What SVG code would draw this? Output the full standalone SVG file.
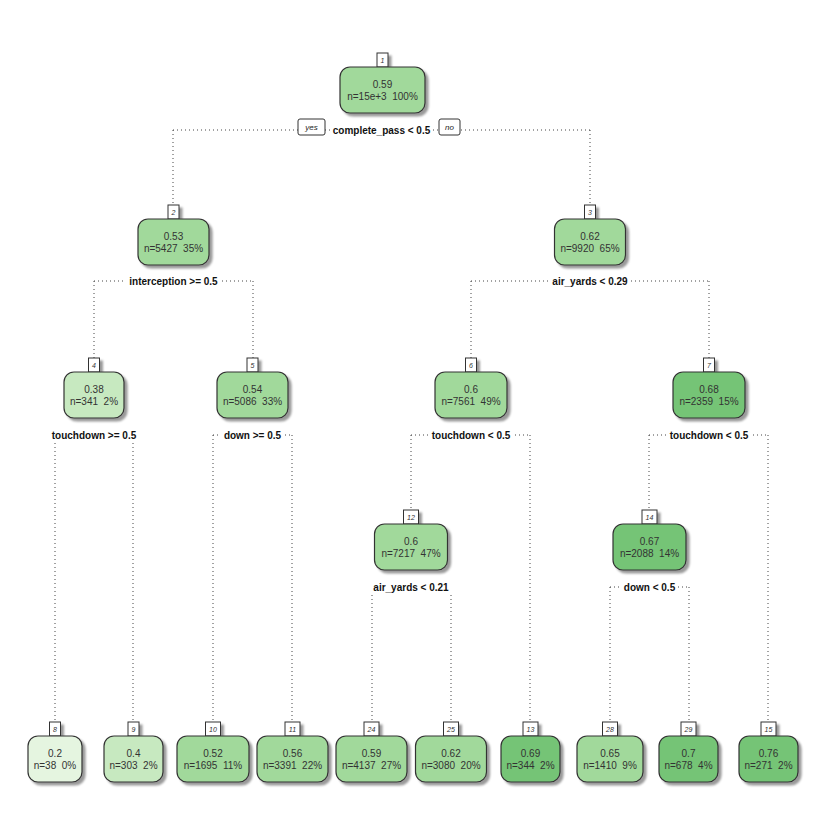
<svg xmlns="http://www.w3.org/2000/svg" width="832" height="820" viewBox="0 0 832 820">
  <defs>
    <filter id="shadow" x="-20%" y="-20%" width="140%" height="150%">
      <feDropShadow dx="3" dy="3" stdDeviation="1.3" flood-color="#000" flood-opacity="0.4"/>
    </filter>
    <style>
      .edge { fill: none; stroke: #444; stroke-width: 1; stroke-dasharray: 1 3; }
      .box { stroke: #333; stroke-width: 1.2; }
      .nbox { fill: #fff; stroke: #333; stroke-width: 1; }
      .t { font-family: "Liberation Sans", Arial, sans-serif; font-size: 10px; fill: #333; text-anchor: middle; white-space: pre; }
      .nn { font-family: "Liberation Sans", Arial, sans-serif; font-size: 7px; font-style: italic; fill: #333; text-anchor: middle; }
      .lbl { font-family: "Liberation Sans", Arial, sans-serif; font-size: 10px; font-weight: bold; fill: #111; text-anchor: middle; }
      .lblbg { fill: #fff; }
      .yn { font-family: "Liberation Sans", Arial, sans-serif; font-size: 8px; font-style: italic; fill: #222; text-anchor: middle; }
      .ynbox { fill: #fff; stroke: #333; stroke-width: 1; }
      .g1 { fill: #e5f5e0; }
      .g2 { fill: #c7e9c0; }
      .g3 { fill: #a1d99b; }
      .g4 { fill: #74c476; }
    </style>
  </defs>
  <rect width="832" height="820" fill="#fff"/>

  <!-- connectors -->
  <g id="edges">
    <!-- root split -->
    <path class="edge" d="M173,130 H590 M173,130 V205 M590,130 V205"/>
    <!-- node 2 split -->
    <path class="edge" d="M94,281 H253 M94,281 V358 M253,281 V358"/>
    <!-- node 3 split -->
    <path class="edge" d="M471,281 H709 M471,281 V358 M709,281 V358"/>
    <!-- node 4 split -->
    <path class="edge" d="M55,435 H133 M55,435 V722 M133,435 V722"/>
    <!-- node 5 split -->
    <path class="edge" d="M213,435 H292 M213,435 V722 M292,435 V722"/>
    <!-- node 6 split -->
    <path class="edge" d="M411,435 H530 M411,435 V510 M530,435 V722"/>
    <!-- node 7 split -->
    <path class="edge" d="M649,435 H768 M649,435 V510 M768,435 V722"/>
    <!-- node 12 split -->
    <path class="edge" d="M372,587 H451 M372,587 V722 M451,587 V722"/>
    <!-- node 14 split -->
    <path class="edge" d="M610,587 H689 M610,587 V722 M689,587 V722"/>
    <!-- yes / no tags on the root split -->
    <rect class="ynbox" x="298" y="119" width="27" height="16" rx="2"/>
    <text class="yn" x="311.5" y="130">yes</text>
    <rect class="ynbox" x="439" y="119" width="21" height="16" rx="2"/>
    <text class="yn" x="449.5" y="130">no</text>
  </g>

  <!-- internal nodes -->
  <g id="node1">
    <g filter="url(#shadow)">
      <rect class="nbox" x="377" y="53" width="11" height="14"/>
      <rect class="box g3" x="340" y="67" width="85" height="46" rx="10"/>
    </g>
    <text class="nn" x="382.5" y="63">1</text>
    <text class="t" x="382.5" y="87.5">0.59</text>
    <text class="t" x="382.5" y="100">n=15e+3  100%</text>
    <rect class="lblbg" x="331" y="123" width="102" height="14"/>
    <text class="lbl" x="381.5" y="133.5">complete_pass &lt; 0.5</text>
  </g>

  <g id="node2">
    <g filter="url(#shadow)">
      <rect class="nbox" x="168" y="205" width="11" height="14"/>
      <rect class="box g3" x="138" y="219" width="71" height="46" rx="10"/>
    </g>
    <text class="nn" x="173.5" y="215">2</text>
    <text class="t" x="173.5" y="239.5">0.53</text>
    <text class="t" x="173.5" y="252">n=5427  35%</text>
    <rect class="lblbg" x="126" y="274" width="95" height="14"/>
    <text class="lbl" x="173.5" y="284.5">interception &gt;= 0.5</text>
  </g>

  <g id="node3">
    <g filter="url(#shadow)">
      <rect class="nbox" x="584.5" y="205" width="11" height="14"/>
      <rect class="box g3" x="554.5" y="219" width="71" height="46" rx="10"/>
    </g>
    <text class="nn" x="590" y="215">3</text>
    <text class="t" x="590" y="239.5">0.62</text>
    <text class="t" x="590" y="252">n=9920  65%</text>
    <rect class="lblbg" x="549" y="274" width="82" height="14"/>
    <text class="lbl" x="590" y="284.5">air_yards &lt; 0.29</text>
  </g>

  <g id="node4">
    <g filter="url(#shadow)">
      <rect class="nbox" x="88.5" y="358" width="11" height="14"/>
      <rect class="box g2" x="64" y="372" width="60" height="46" rx="10"/>
    </g>
    <text class="nn" x="94" y="368">4</text>
    <text class="t" x="94" y="392.5">0.38</text>
    <text class="t" x="94" y="405">n=341  2%</text>
    <rect class="lblbg" x="49" y="427" width="90" height="16"/>
    <text class="lbl" x="94" y="438.5">touchdown &gt;= 0.5</text>
  </g>

  <g id="node5">
    <g filter="url(#shadow)">
      <rect class="nbox" x="247" y="358" width="11" height="14"/>
      <rect class="box g3" x="217" y="372" width="71" height="46" rx="10"/>
    </g>
    <text class="nn" x="252.5" y="368">5</text>
    <text class="t" x="252.5" y="392.5">0.54</text>
    <text class="t" x="252.5" y="405">n=5086  33%</text>
    <rect class="lblbg" x="221" y="428" width="63" height="14"/>
    <text class="lbl" x="252.5" y="438.5">down &gt;= 0.5</text>
  </g>

  <g id="node6">
    <g filter="url(#shadow)">
      <rect class="nbox" x="465.5" y="358" width="11" height="14"/>
      <rect class="box g3" x="435" y="372" width="72" height="46" rx="10"/>
    </g>
    <text class="nn" x="471" y="368">6</text>
    <text class="t" x="471" y="392.5">0.6</text>
    <text class="t" x="471" y="405">n=7561  49%</text>
    <rect class="lblbg" x="428" y="428" width="86" height="14"/>
    <text class="lbl" x="471" y="438.5">touchdown &lt; 0.5</text>
  </g>

  <g id="node7">
    <g filter="url(#shadow)">
      <rect class="nbox" x="703.5" y="358" width="11" height="14"/>
      <rect class="box g4" x="673" y="372" width="72" height="46" rx="10"/>
    </g>
    <text class="nn" x="709" y="368">7</text>
    <text class="t" x="709" y="392.5">0.68</text>
    <text class="t" x="709" y="405">n=2359  15%</text>
    <rect class="lblbg" x="666" y="428" width="86" height="14"/>
    <text class="lbl" x="709" y="438.5">touchdown &lt; 0.5</text>
  </g>

  <g id="node12">
    <g filter="url(#shadow)">
      <rect class="nbox" x="403.5" y="510" width="15" height="14"/>
      <rect class="box g3" x="374.5" y="524" width="73" height="46" rx="10"/>
    </g>
    <text class="nn" x="411" y="520">12</text>
    <text class="t" x="411" y="544.5">0.6</text>
    <text class="t" x="411" y="557">n=7217  47%</text>
    <rect class="lblbg" x="370" y="580" width="82" height="14"/>
    <text class="lbl" x="411" y="590.5">air_yards &lt; 0.21</text>
  </g>

  <g id="node14">
    <g filter="url(#shadow)">
      <rect class="nbox" x="642" y="510" width="15" height="14"/>
      <rect class="box g4" x="613" y="524" width="73" height="46" rx="10"/>
    </g>
    <text class="nn" x="649.5" y="520">14</text>
    <text class="t" x="649.5" y="544.5">0.67</text>
    <text class="t" x="649.5" y="557">n=2088  14%</text>
    <rect class="lblbg" x="621" y="580" width="57" height="14"/>
    <text class="lbl" x="649.5" y="590.5">down &lt; 0.5</text>
  </g>

  <!-- leaves -->
  <g id="node8">
    <g filter="url(#shadow)">
      <rect class="nbox" x="49.5" y="722" width="11" height="14"/>
      <rect class="box g1" x="28" y="736" width="54" height="46" rx="10"/>
    </g>
    <text class="nn" x="55" y="732">8</text>
    <text class="t" x="55" y="756.5">0.2</text>
    <text class="t" x="55" y="769">n=38  0%</text>
  </g>

  <g id="node9">
    <g filter="url(#shadow)">
      <rect class="nbox" x="128" y="722" width="11" height="14"/>
      <rect class="box g2" x="104" y="736" width="59" height="46" rx="10"/>
    </g>
    <text class="nn" x="133.5" y="732">9</text>
    <text class="t" x="133.5" y="756.5">0.4</text>
    <text class="t" x="133.5" y="769">n=303  2%</text>
  </g>

  <g id="node10">
    <g filter="url(#shadow)">
      <rect class="nbox" x="205.5" y="722" width="15" height="14"/>
      <rect class="box g3" x="177" y="736" width="72" height="46" rx="10"/>
    </g>
    <text class="nn" x="213" y="732">10</text>
    <text class="t" x="213" y="756.5">0.52</text>
    <text class="t" x="213" y="769">n=1695  11%</text>
  </g>

  <g id="node11">
    <g filter="url(#shadow)">
      <rect class="nbox" x="285" y="722" width="15" height="14"/>
      <rect class="box g3" x="257" y="736" width="71" height="46" rx="10"/>
    </g>
    <text class="nn" x="292.5" y="732">11</text>
    <text class="t" x="292.5" y="756.5">0.56</text>
    <text class="t" x="292.5" y="769">n=3391  22%</text>
  </g>

  <g id="node24">
    <g filter="url(#shadow)">
      <rect class="nbox" x="364" y="722" width="15" height="14"/>
      <rect class="box g3" x="336" y="736" width="71" height="46" rx="10"/>
    </g>
    <text class="nn" x="371.5" y="732">24</text>
    <text class="t" x="371.5" y="756.5">0.59</text>
    <text class="t" x="371.5" y="769">n=4137  27%</text>
  </g>

  <g id="node25">
    <g filter="url(#shadow)">
      <rect class="nbox" x="443.5" y="722" width="15" height="14"/>
      <rect class="box g3" x="415.5" y="736" width="71" height="46" rx="10"/>
    </g>
    <text class="nn" x="451" y="732">25</text>
    <text class="t" x="451" y="756.5">0.62</text>
    <text class="t" x="451" y="769">n=3080  20%</text>
  </g>

  <g id="node13">
    <g filter="url(#shadow)">
      <rect class="nbox" x="523" y="722" width="15" height="14"/>
      <rect class="box g4" x="501" y="736" width="59" height="46" rx="10"/>
    </g>
    <text class="nn" x="530.5" y="732">13</text>
    <text class="t" x="530.5" y="756.5">0.69</text>
    <text class="t" x="530.5" y="769">n=344  2%</text>
  </g>

  <g id="node28">
    <g filter="url(#shadow)">
      <rect class="nbox" x="602.5" y="722" width="15" height="14"/>
      <rect class="box g3" x="577" y="736" width="66" height="46" rx="10"/>
    </g>
    <text class="nn" x="610" y="732">28</text>
    <text class="t" x="610" y="756.5">0.65</text>
    <text class="t" x="610" y="769">n=1410  9%</text>
  </g>

  <g id="node29">
    <g filter="url(#shadow)">
      <rect class="nbox" x="681" y="722" width="15" height="14"/>
      <rect class="box g4" x="659" y="736" width="59" height="46" rx="10"/>
    </g>
    <text class="nn" x="688.5" y="732">29</text>
    <text class="t" x="688.5" y="756.5">0.7</text>
    <text class="t" x="688.5" y="769">n=678  4%</text>
  </g>

  <g id="node15">
    <g filter="url(#shadow)">
      <rect class="nbox" x="761" y="722" width="15" height="14"/>
      <rect class="box g4" x="739" y="736" width="59" height="46" rx="10"/>
    </g>
    <text class="nn" x="768.5" y="732">15</text>
    <text class="t" x="768.5" y="756.5">0.76</text>
    <text class="t" x="768.5" y="769">n=271  2%</text>
  </g>
</svg>
